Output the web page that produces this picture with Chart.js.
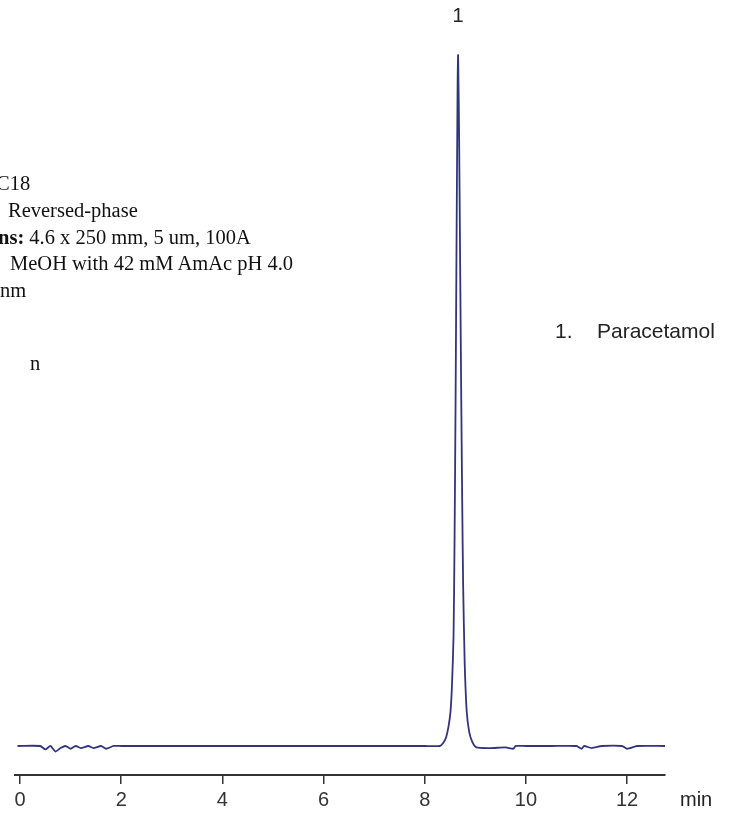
<!DOCTYPE html>
<html>
<head>
<meta charset="utf-8">
<script src="https://cdn.jsdelivr.net/npm/chart.js@4.4.0/dist/chart.umd.min.js"></script>
<style>
  body { margin: 0; background: #fff; }
  #wrap { position: relative; width: 750px; height: 816px; }
  .note { position: absolute; font-family: "Liberation Serif", "Times New Roman", serif; font-size: 20.5px; color: #111; white-space: nowrap; }
</style>
</head>
<body>
<div id="wrap">
  <canvas id="myChart" width="750" height="816"></canvas>
  <div class="note" style="left:-4px; top:172px;">C18</div>
  <div class="note" style="left:8px; top:199px;">Reversed-phase</div>
  <div class="note" style="left:-2px; top:226px;"><b>ns:</b> 4.6 x 250 mm, 5 um, 100A</div>
  <div class="note" style="left:10px; top:252px;">MeOH with 42 mM AmAc pH 4.0</div>
  <div class="note" style="left:0px; top:279px;">nm</div>
  <div class="note" style="left:30px; top:352px;">n</div>
</div>
<script>
// chromatogram trace (time in min, signal in % of peak)
const times = [-0.05, 0.4, 0.5, 0.6, 0.7, 0.8, 0.9, 1.0, 1.1, 1.2, 1.35, 1.45, 1.6, 1.7, 1.85, 2.0,
  3.0, 5.0, 7.0, 8.0, 8.3, 8.36, 8.42, 8.47, 8.51, 8.54, 8.57, 8.59, 8.61, 8.63, 8.65, 8.66,
  8.68, 8.70, 8.72, 8.74, 8.76, 8.79, 8.83, 8.88, 8.94, 9.02, 9.3, 9.6, 9.75, 9.8, 10.0,
  10.5, 11.0, 11.1, 11.15, 11.3, 11.5, 11.9, 12.0, 12.2, 12.75];
const signal = [0, 0, -0.5, 0, -0.8, -0.3, 0, -0.4, 0, -0.3, 0, -0.3, 0, -0.4, 0, 0,
  0, 0, 0, 0, 0, 0.4, 1.2, 2.8, 5, 9, 16, 30, 50, 74, 96, 100,
  88, 70, 52, 36, 23, 12, 5, 2, 0.6, -0.2, -0.3, -0.2, -0.4, 0, 0,
  0, 0, -0.4, 0, -0.3, 0, 0, -0.4, 0, 0];

const xTicks = [0, 2, 4, 6, 8, 10, 12];
const peakTimes = [8.66];
const peakLabels = ['1'];
const compounds = ['Paracetamol'];

const points = times.map((t, i) => ({ x: t, y: signal[i] }));

const annotations = {
  id: 'annotations',
  afterDraw(chart) {
    const ctx = chart.ctx;
    const x = chart.scales.x;
    const y = chart.scales.y;
    ctx.save();
    ctx.fillStyle = '#222';
    ctx.font = '20px "Liberation Sans", Arial, sans-serif';
    ctx.textAlign = 'center';
    ctx.textBaseline = 'middle';
    peakTimes.forEach((t, i) => {
      ctx.fillText(peakLabels[i], x.getPixelForValue(t), y.getPixelForValue(100) - 39);
    });
    ctx.textAlign = 'left';
    ctx.font = '21px "Liberation Sans", Arial, sans-serif';
    compounds.forEach((c, i) => {
      ctx.fillText(peakLabels[i] + '.', 555, 332 + i * 30);
      ctx.fillText(c, 597, 332 + i * 30);
    });
    ctx.font = '20px "Liberation Sans", Arial, sans-serif';
    ctx.fillText('min', x.right + 15, y.bottom + 25);
    ctx.restore();
  }
};

const config = {
  type: 'line',
  data: {
    datasets: [{
      data: points,
      borderColor: '#34347a',
      borderWidth: 1.8,
      pointRadius: 0,
      tension: 0.2,
      fill: false
    }]
  },
  options: {
    responsive: false,
    animation: false,
    layout: { padding: { top: 40, left: 15, right: 85, bottom: 0 } },
    plugins: { legend: { display: false }, tooltip: { enabled: false } },
    scales: {
      x: {
        type: 'linear',
        min: -0.1,
        max: 12.75,
        border: { display: true, color: '#333', width: 2 },
        grid: { drawOnChartArea: false, drawTicks: true, tickLength: 9, color: '#333', lineWidth: 1.5 },
        afterBuildTicks: (axis) => { axis.ticks = xTicks.map(v => ({ value: v })); },
        ticks: {
          color: '#333',
          padding: 4,
          maxRotation: 0,
          font: { family: '"Liberation Sans", Arial, sans-serif', size: 20 }
        }
      },
      y: {
        display: false,
        min: -4.2,
        max: 102.2
      }
    }
  },
  plugins: [annotations]
};

new Chart(document.getElementById('myChart'), config);
</script>
</body>
</html>
